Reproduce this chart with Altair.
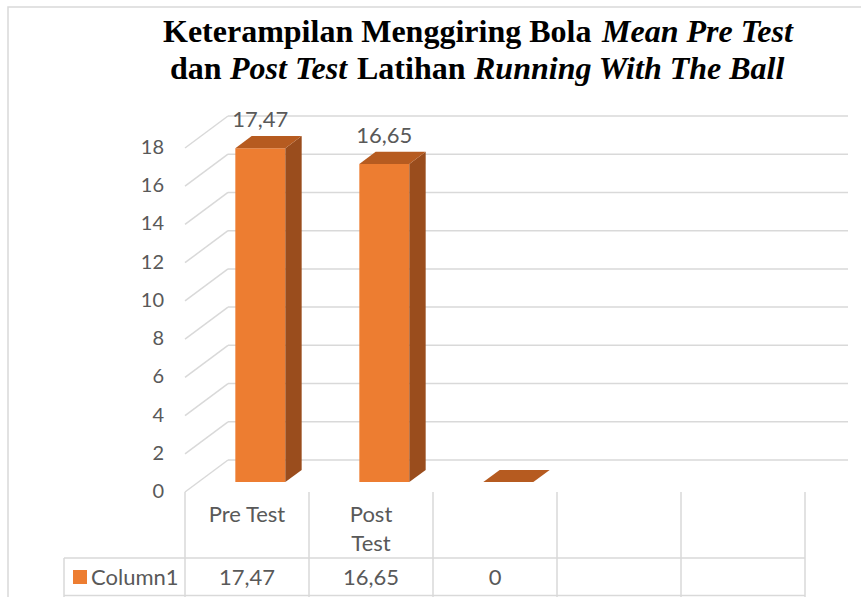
import altair as alt
import pandas as pd

# ---------------- data ----------------
categories = ["Pre Test", "Post Test", ""]
header_text = ["Pre Test", "Post\nTest", ""]
values = [17.47, 16.65, 0]
series_name = "Column1"
y_ticks = [0, 2, 4, 6, 8, 10, 12, 14, 16, 18]
n_slots = 5
title_line1 = ["Keterampilan Menggiring Bola", "Mean Pre Test"]
title_line1_style = ["normal", "italic"]
title_line2 = ["dan", "Post Test", "Latihan", "Running With The Ball"]
title_line2_style = ["normal", "italic", "normal", "italic"]


def fmt(v):
    return "0" if v == 0 else f"{v:.2f}".replace(".", ",")


# ---------------- geometry / style ----------------
DX = 43 / 124          # depth shift in slot units
DY = 32 / 19.11        # depth shift in value units
D0, D1 = 0.31, 0.69    # bar depth span
HW = 0.2016            # half bar width in slot units
FRONT = "#ED7D31"
SIDE = "#9A4D1D"
TOP = "#B65B20"
GRID = "#D9D9D9"
TXT = "#595959"
SANS = "Lato"
TFS = 32

xs = alt.Scale(domain=[0, n_slots], range=[185, 805], nice=False, zero=False)
ys = alt.Scale(domain=[0, 18], range=[492, 148], nice=False, zero=False)


def X(f):
    return alt.X(f, type="quantitative", scale=xs, axis=None)


def Y(f):
    return alt.Y(f, type="quantitative", scale=ys, axis=None)


# gridlines (back wall + side wall)
grid_rows = []
for v in y_ticks:
    grid_rows.append(dict(x=DX, x2=n_slots + DX, y=v + DY, y2=v + DY))
    grid_rows.append(dict(x=0, x2=DX, y=v, y2=v + DY))
grid_df = pd.DataFrame(grid_rows)
grid = alt.Chart(grid_df).mark_rule(color=GRID, strokeWidth=1.5).encode(
    x=X("x"), x2="x2", y=Y("y"), y2="y2")

# bars
front_rows, side_rows, top_rows, lab_rows = [], [], [], []
for i, (c, v) in enumerate(zip(categories, values)):
    xl = i + 0.5 - HW + D0 * DX
    xr = i + 0.5 + HW + D0 * DX
    ddx = (D1 - D0) * DX
    front_rows.append(dict(c=i, x=xl, x2=xr, y=D0 * DY, y2=v + D0 * DY))
    side_rows.append(dict(c=i, x=xr, y=D0 * DY, y2=v + D0 * DY))
    side_rows.append(dict(c=i, x=xr + ddx, y=D1 * DY, y2=v + D1 * DY))
    top_rows.append(dict(c=i, y=v + D0 * DY, x=xl, x2=xr))
    top_rows.append(dict(c=i, y=v + D1 * DY, x=xl + ddx, x2=xr + ddx))
    if v != 0:
        lab_rows.append(dict(x=i + 0.5 + D0 * DX, y=v + D1 * DY, t=fmt(v)))

front = alt.Chart(pd.DataFrame(front_rows)).mark_rect(color=FRONT).encode(
    x=X("x"), x2="x2", y=Y("y"), y2="y2")
side = alt.Chart(pd.DataFrame(side_rows)).mark_area(color=SIDE).encode(
    x=X("x"), y=Y("y"), y2="y2", detail="c:N")
top = alt.Chart(pd.DataFrame(top_rows)).mark_area(color=TOP, orient="horizontal").encode(
    y=Y("y"), x=X("x"), x2="x2", detail="c:N")
labels = alt.Chart(pd.DataFrame(lab_rows)).mark_text(
    font=SANS, fontSize=22, color=TXT, baseline="bottom", dy=-4).encode(
    x=X("x"), y=Y("y"), text="t:N")

# y axis labels
ylab = alt.Chart(pd.DataFrame(dict(v=y_ticks, x=[0] * len(y_ticks)))).mark_text(
    font=SANS, fontSize=20, color=TXT, align="right", baseline="middle", dx=-21).encode(
    x=X("x"), y=Y("v"), text="v:N")

# data table
vlines = alt.Chart(pd.DataFrame(dict(x=list(range(n_slots + 1))))).mark_rule(
    color=GRID, strokeWidth=1.5).encode(x=X("x"), y=alt.value(492), y2=alt.value(597))
hline_mid = alt.Chart(pd.DataFrame(dict(x=[0]))).mark_rule(color=GRID, strokeWidth=1.5).encode(
    x=alt.value(64), x2=alt.value(805), y=alt.value(558))
hline_bot = alt.Chart(pd.DataFrame(dict(x=[0]))).mark_rule(color=GRID, strokeWidth=1.5).encode(
    x=alt.value(64), x2=alt.value(805), y=alt.value(595.5))
vline_leg = alt.Chart(pd.DataFrame(dict(x=[0]))).mark_rule(color=GRID, strokeWidth=1.5).encode(
    x=alt.value(64), y=alt.value(558), y2=alt.value(597))

hdr = alt.Chart(pd.DataFrame(dict(x=[i + 0.5 for i in range(len(categories))], t=header_text))).mark_text(
    font=SANS, fontSize=22, color=TXT, baseline="top", lineBreak="\n", lineHeight=29).encode(
    x=X("x"), y=alt.value(505), text="t:N")
vals = alt.Chart(pd.DataFrame(dict(x=[i + 0.5 for i in range(len(values))], t=[fmt(v) for v in values]))).mark_text(
    font=SANS, fontSize=22, color=TXT, baseline="middle").encode(
    x=X("x"), y=alt.value(578), text="t:N")
leg_sym = alt.Chart(pd.DataFrame(dict(x=[0]))).mark_rect(color=FRONT).encode(
    x=alt.value(73), x2=alt.value(87), y=alt.value(570), y2=alt.value(584))
leg_txt = alt.Chart(pd.DataFrame(dict(t=[series_name]))).mark_text(
    font=SANS, fontSize=22, color=TXT, align="left", baseline="middle").encode(
    x=alt.value(91), y=alt.value(578), text="t:N")

# frame
frame = alt.Chart(pd.DataFrame(dict(x=[0]))).mark_rect(
    fillOpacity=0, stroke=GRID, strokeWidth=1.5).encode(
    x=alt.value(8), x2=alt.value(880), y=alt.value(7), y2=alt.value(620))

# title segments
t_rows = []
for txt, st, px in zip(title_line1, title_line1_style, [163, 602]):
    t_rows.append(dict(t=txt, s=st, px=px, py=42))
for txt, st, px in zip(title_line2, title_line2_style, [170, 230, 357, 474]):
    t_rows.append(dict(t=txt, s=st, px=px, py=79))
t_df = pd.DataFrame(t_rows)
title_n = alt.Chart(t_df).transform_filter("datum.s == 'normal'").mark_text(
    font="Liberation Serif", fontWeight="bold", fontSize=TFS, color="#000000",
    align="left", baseline="alphabetic").encode(
    x=alt.X("px:Q", scale=None, axis=None), y=alt.Y("py:Q", scale=None, axis=None), text="t:N")
title_i = alt.Chart(t_df).transform_filter("datum.s == 'italic'").mark_text(
    font="Liberation Serif", fontWeight="bold", fontStyle="italic", fontSize=TFS, color="#000000",
    align="left", baseline="alphabetic").encode(
    x=alt.X("px:Q", scale=None, axis=None), y=alt.Y("py:Q", scale=None, axis=None), text="t:N")

chart = alt.layer(
    frame, grid, front, side, top, labels, ylab,
    vlines, hline_mid, hline_bot, vline_leg, hdr, vals, leg_sym, leg_txt,
    title_n, title_i,
).resolve_scale(x="independent", y="independent").properties(
    width=861, height=597, padding=0, autosize=alt.AutoSizeParams(type="none"),
    background="#FFFFFF",
).configure_view(strokeWidth=0)

chart.save("out.html", embed_options={"renderer": "svg", "actions": False})
